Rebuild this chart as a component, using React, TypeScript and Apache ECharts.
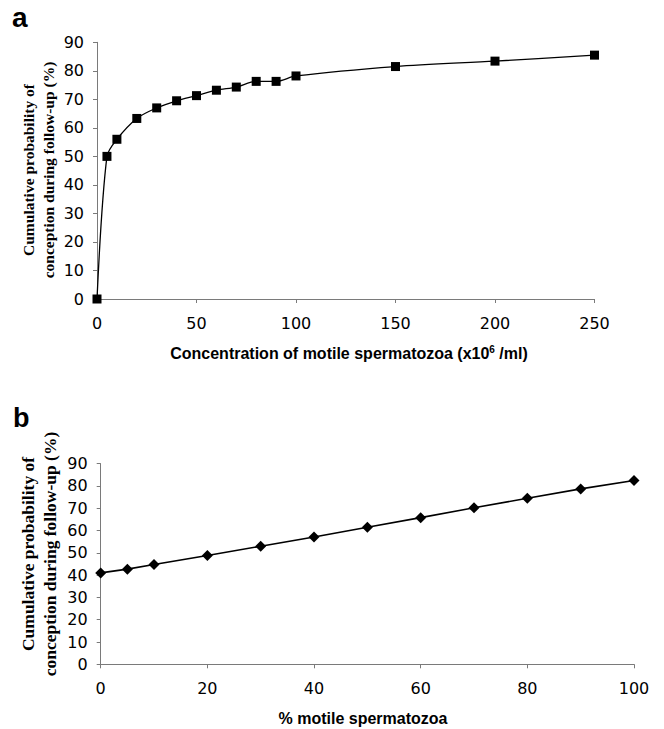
import React, { useEffect, useRef } from "react";
import * as echarts from "echarts";

// Panel a: concentration of motile spermatozoa (x10^6/ml)
const concX = [0, 5, 10, 20, 30, 40, 50, 60, 70, 80, 90, 100, 150, 200, 250];
const concY = [0, 50, 56, 63.3, 67, 69.5, 71.3, 73.2, 74.3, 76.3, 76.3, 78.2, 81.5, 83.4, 85.5];

// Panel b: % motile spermatozoa
const motX = [0, 5, 10, 20, 30, 40, 50, 60, 70, 80, 90, 100];
const motY = [41, 42.7, 44.8, 48.8, 53, 57.1, 61.5, 65.8, 70.2, 74.5, 78.7, 82.5];

const yTitle1 = "Cumulative probability of";
const yTitle2 = "conception during follow-up (%)";

const SANS = "'Liberation Sans', Arial, sans-serif";
const TICK_FONT = "'DejaVu Sans', 'Liberation Sans', Arial, sans-serif";
const SERIF = "'Liberation Serif', 'Times New Roman', serif";
const AXIS_COLOR = "#7a7a7a";

export default function App() {
  const ref = useRef<HTMLDivElement>(null);
  useEffect(() => {
    document.body.style.margin = "0";
    const chart = echarts.init(ref.current!, null, { renderer: "svg" });
    const axisCommon = {
      axisLine: { show: true, lineStyle: { color: AXIS_COLOR, width: 1 } },
      axisTick: { show: true, length: 4, lineStyle: { color: AXIS_COLOR } },
      splitLine: { show: false },
    };
    const tickLabel = { color: "#000", fontFamily: TICK_FONT, fontSize: 16 };
    const titleLine = (text: string, x: number, y: number, size: number) => ({
      type: "text",
      x,
      y,
      rotation: Math.PI / 2,
      style: {
        text,
        fontFamily: SERIF,
        fontWeight: "bold",
        fontSize: size,
        fill: "#000",
        textAlign: "center",
        textVerticalAlign: "middle",
      },
    });
    chart.setOption({
      animation: false,
      grid: [
        { left: 97, right: 69.5, top: 42.3, bottom: 430 },
        { left: 100.7, right: 30, top: 463.7, bottom: 64.7 },
      ],
      xAxis: [
        {
          gridIndex: 0,
          type: "value",
          min: 0,
          max: 250,
          interval: 50,
          ...axisCommon,
          axisLabel: { ...tickLabel, margin: 16 },
        },
        {
          gridIndex: 1,
          type: "value",
          min: 0,
          max: 100,
          interval: 20,
          ...axisCommon,
          axisLabel: { ...tickLabel, margin: 16 },
        },
      ],
      yAxis: [
        {
          gridIndex: 0,
          type: "value",
          min: 0,
          max: 90,
          interval: 10,
          ...axisCommon,
          axisLabel: { ...tickLabel, margin: 13 },
        },
        {
          gridIndex: 1,
          type: "value",
          min: 0,
          max: 90,
          interval: 10,
          ...axisCommon,
          axisLabel: { ...tickLabel, margin: 13 },
        },
      ],
      graphic: [
        {
          type: "text",
          left: 12,
          top: 3,
          style: { text: "a", fontFamily: SANS, fontWeight: "bold", fontSize: 28, fill: "#000" },
        },
        {
          type: "text",
          left: 13,
          top: 404,
          style: { text: "b", fontFamily: SANS, fontWeight: "bold", fontSize: 27, fill: "#000" },
        },
        titleLine(yTitle1, 28, 170, 15.5),
        titleLine(yTitle2, 48, 170, 15.5),
        titleLine(yTitle1, 28, 554, 17.5),
        titleLine(yTitle2, 50, 554, 17.5),
        {
          type: "text",
          x: 349,
          y: 353,
          style: {
            text: "Concentration of motile spermatozoa (x10{sup|6} /ml)",
            rich: {
              sup: { fontSize: 10, verticalAlign: "top", fontFamily: SANS, fontWeight: "bold", padding: [0, 0, 8, 0] },
            },
            fontFamily: SANS,
            fontWeight: "bold",
            fontSize: 16,
            fill: "#000",
            textAlign: "center",
            textVerticalAlign: "middle",
          },
        },
        {
          type: "text",
          x: 363,
          y: 718,
          style: {
            text: "% motile spermatozoa",
            fontFamily: SANS,
            fontWeight: "bold",
            fontSize: 16,
            fill: "#000",
            textAlign: "center",
            textVerticalAlign: "middle",
          },
        },
      ],
      series: [
        {
          type: "line",
          xAxisIndex: 0,
          yAxisIndex: 0,
          data: concX.map((x, i) => [x, concY[i]]),
          smooth: 0.3,
          symbol: "rect",
          symbolSize: 9,
          itemStyle: { color: "#000" },
          lineStyle: { color: "#000", width: 1.3 },
        },
        {
          type: "line",
          xAxisIndex: 1,
          yAxisIndex: 1,
          data: motX.map((x, i) => [x, motY[i]]),
          symbol: "diamond",
          symbolSize: 11,
          itemStyle: { color: "#000" },
          lineStyle: { color: "#000", width: 1.6 },
        },
      ],
    });
    return () => chart.dispose();
  }, []);
  return <div ref={ref} style={{ width: 664, height: 729 }} />;
}
